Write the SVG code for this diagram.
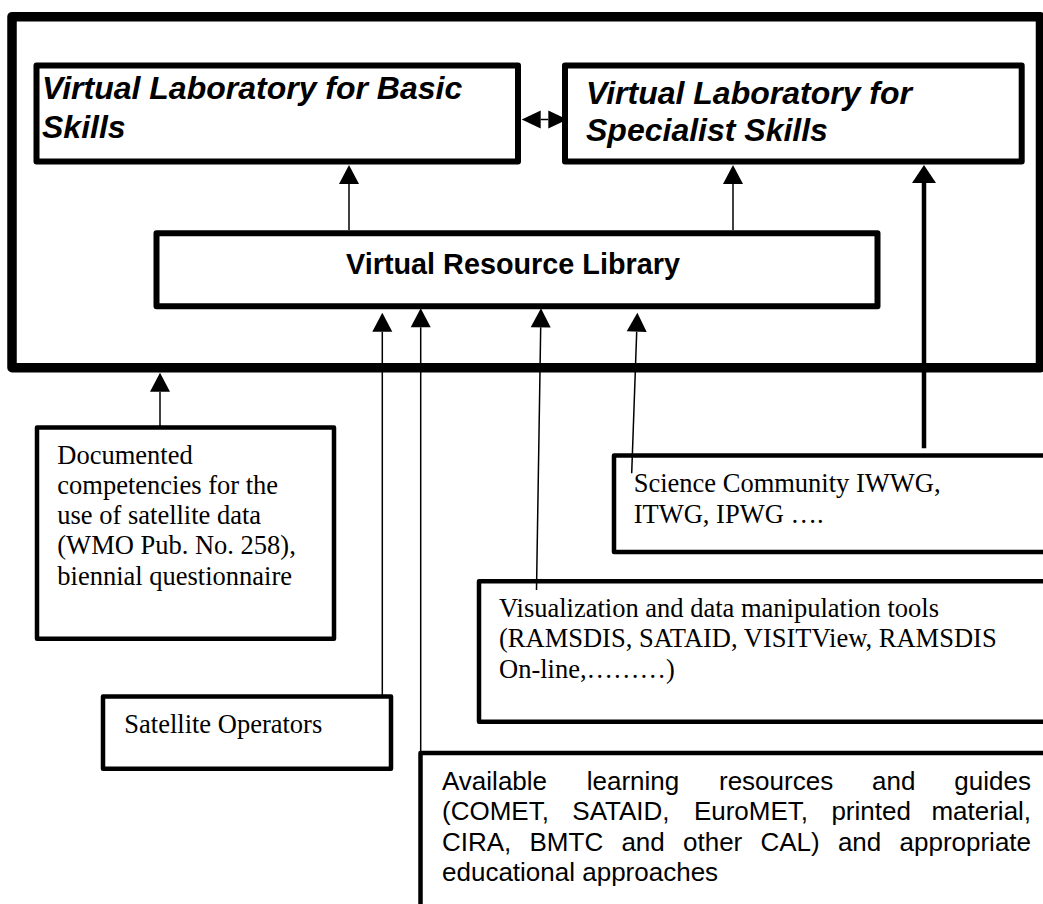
<svg xmlns="http://www.w3.org/2000/svg" width="1043" height="904" viewBox="0 0 1043 904">
<style>
  .frame{fill:none;stroke:#000;stroke-width:9.5;stroke-linejoin:round}
  .box{fill:#fff;stroke:#000;stroke-width:6;stroke-linejoin:round}
  .sbox{fill:#fff;stroke:#000;stroke-width:4.5;stroke-linejoin:round}
  .head{font-family:"Liberation Sans",Arial,sans-serif;font-weight:bold;font-style:italic;font-size:32px;fill:#000}
  .vrl{font-family:"Liberation Sans",Arial,sans-serif;font-weight:bold;font-size:28.8px;fill:#000}
  .serif{font-family:"Liberation Serif","Times New Roman",serif;font-size:26.5px;fill:#000}
  .sans{font-family:"Liberation Sans",Arial,sans-serif;font-size:26px;fill:#000}
  .thin{fill:none;stroke:#000;stroke-width:1.5}
  .thick{fill:none;stroke:#000;stroke-width:4.5}
</style>
<defs>
  <marker id="ah" markerUnits="userSpaceOnUse" markerWidth="19" markerHeight="20" viewBox="0 0 19 20" refX="0" refY="10" orient="auto" overflow="visible">
    <path d="M0,0 L19,10 L0,20 Z" fill="#000"/>
  </marker>
  <marker id="ahs" markerUnits="userSpaceOnUse" markerWidth="19" markerHeight="20" viewBox="0 0 19 20" refX="0" refY="10" orient="auto-start-reverse" overflow="visible">
    <path d="M0,1 L19,10 L0,19 Z" fill="#000"/>
  </marker>
  <marker id="ahb" markerUnits="userSpaceOnUse" markerWidth="18" markerHeight="24" viewBox="0 0 18 24" refX="0" refY="12" orient="auto" overflow="visible">
    <path d="M0,0 L18,12 L0,24 Z" fill="#000"/>
  </marker>
</defs>

<g id="frame">
  <rect class="frame" x="12" y="16.7" width="1028.5" height="351"/>
</g>

<g id="basic">
  <rect class="box" x="36.5" y="65.5" width="481.5" height="96"/>
  <text class="head" x="42" y="99.3">Virtual Laboratory for Basic</text>
  <text class="head" x="42" y="138.3">Skills</text>
</g>

<g id="specialist">
  <rect class="box" x="565" y="65.5" width="456.7" height="96"/>
  <text class="head" x="586" y="104">Virtual Laboratory for</text>
  <text class="head" x="586" y="140.5">Specialist Skills</text>
</g>

<g id="vrl">
  <rect class="box" x="156.5" y="233.3" width="721" height="73"/>
  <text class="vrl" x="346" y="273.5">Virtual Resource Library</text>
</g>

<g id="documented">
  <rect class="sbox" x="37" y="427.5" width="297" height="211.2"/>
  <text class="serif" x="57.3" y="463.5">Documented</text>
  <text class="serif" x="57.3" y="493.7">competencies for the</text>
  <text class="serif" x="57.3" y="524">use of satellite data</text>
  <text class="serif" x="57.3" y="554.2">(WMO Pub. No. 258),</text>
  <text class="serif" x="57.3" y="584.5">biennial questionnaire</text>
</g>

<g id="satellite">
  <rect class="sbox" x="103" y="696.5" width="288" height="72.2"/>
  <text class="serif" x="124.3" y="733.3">Satellite Operators</text>
</g>

<g id="science">
  <rect class="sbox" x="614" y="455.5" width="460" height="96.5"/>
  <text class="serif" x="633.7" y="492">Science Community IWWG,</text>
  <text class="serif" x="633.7" y="523">ITWG, IPWG ….</text>
</g>

<g id="visualization">
  <rect class="sbox" x="479" y="581.3" width="600" height="140.4"/>
  <text class="serif" x="499" y="617">Visualization and data manipulation tools</text>
  <text class="serif" x="499" y="647.3">(RAMSDIS, SATAID, VISITView, RAMSDIS</text>
  <text class="serif" x="499" y="677.5">On-line,………)</text>
</g>

<g id="available">
  <rect class="sbox" x="420.5" y="753" width="660" height="200"/>
  <text class="sans" y="789.5"><tspan x="442">Available</tspan><tspan x="586.7">learning</tspan><tspan x="719">resources</tspan><tspan x="872">and</tspan><tspan x="954.3">guides</tspan></text>
  <text class="sans" y="820"><tspan x="442">(COMET,</tspan><tspan x="572.3">SATAID,</tspan><tspan x="693.9">EuroMET,</tspan><tspan x="831.4">printed</tspan><tspan x="931.4">material,</tspan></text>
  <text class="sans" y="850.5"><tspan x="442">CIRA,</tspan><tspan x="529.5">BMTC</tspan><tspan x="621.4">and</tspan><tspan x="683">other</tspan><tspan x="760.5">CAL)</tspan><tspan x="837.9">and</tspan><tspan x="899.5">appropriate</tspan></text>
  <text class="sans" x="442" y="881">educational approaches</text>
</g>

<g id="connectors">
  <line class="thin" x1="349" y1="230" x2="349" y2="184" marker-end="url(#ah)"/>
  <line class="thin" x1="733" y1="230" x2="733" y2="184" marker-end="url(#ah)"/>
  <line class="thick" x1="924" y1="448.3" x2="924" y2="183" marker-end="url(#ahb)"/>
  <line class="thin" x1="540.7" y1="119.5" x2="548.3" y2="119.5" marker-start="url(#ahs)" marker-end="url(#ahs)"/>
  <line class="thin" x1="160" y1="427" x2="160" y2="391.7" marker-end="url(#ah)"/>
  <line class="thin" x1="382.3" y1="696" x2="382.3" y2="331.7" marker-end="url(#ah)"/>
  <line class="thin" x1="420.7" y1="753" x2="420.7" y2="327.3" marker-end="url(#ah)"/>
  <line class="thin" x1="536.5" y1="590" x2="540.7" y2="327.3" marker-end="url(#ah)"/>
  <line class="thin" x1="631.7" y1="473.3" x2="636.7" y2="331.7" marker-end="url(#ah)"/>
</g>
</svg>
